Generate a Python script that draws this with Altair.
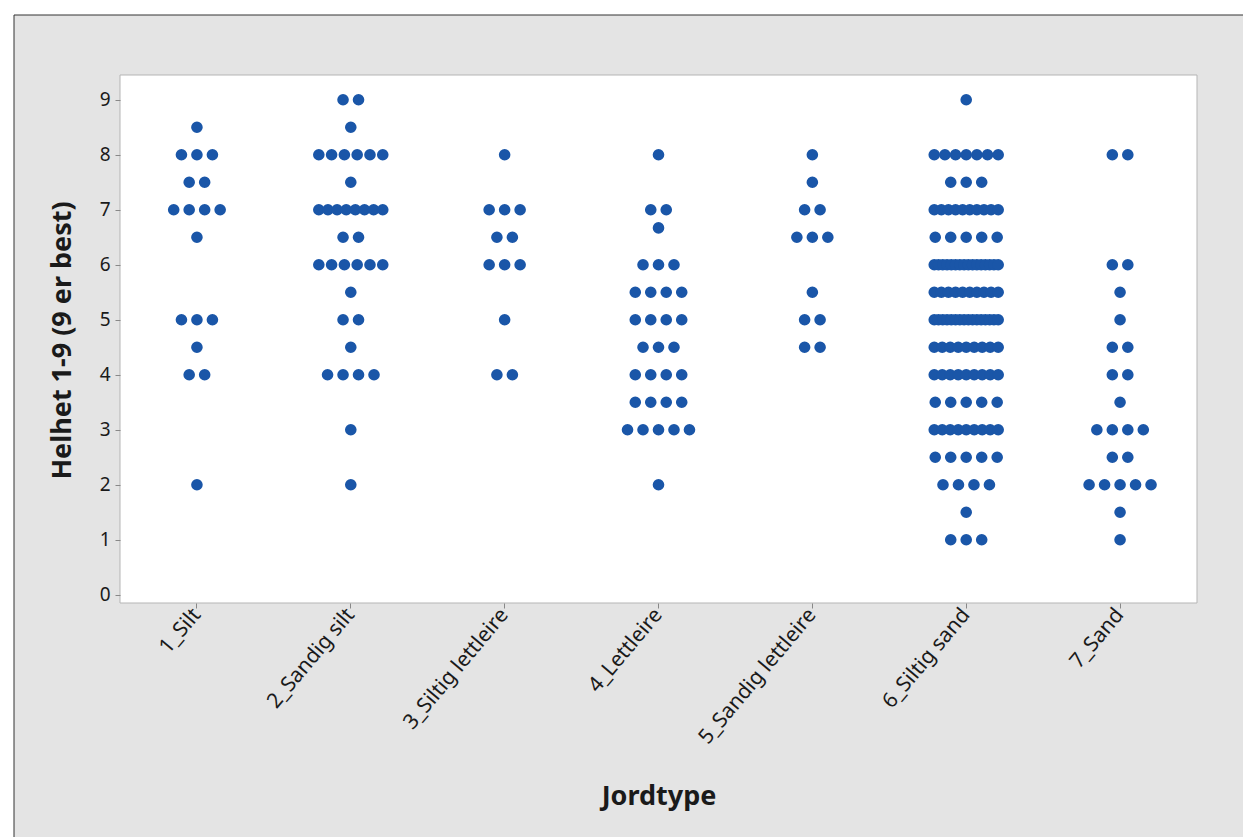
import altair as alt
import pandas as pd

categories = ["1_Silt", "2_Sandig silt", "3_Siltig lettleire", "4_Lettleire",
              "5_Sandig lettleire", "6_Siltig sand", "7_Sand"]

values_by_cat = [
    [8.5, 8, 7.5, 7, 6.5, 5, 4.5, 4, 2],
    [9, 8.5, 8, 7.5, 7, 6.5, 6, 5.5, 5, 4.5, 4, 3, 2],
    [8, 7, 6.5, 6, 5, 4],
    [8, 7, 6.67, 6, 5.5, 5, 4.5, 4, 3.5, 3, 2],
    [8, 7.5, 7, 6.5, 5.5, 5, 4.5],
    [9, 8, 7.5, 7, 6.5, 6, 5.5, 5, 4.5, 4, 3.5, 3, 2.5, 2, 1.5, 1],
    [8, 6, 5.5, 5, 4.5, 4, 3.5, 3, 2.5, 2, 1.5, 1],
]
counts_by_cat = [
    [1, 3, 2, 4, 1, 3, 1, 2, 1],
    [2, 1, 6, 1, 8, 2, 6, 1, 2, 1, 4, 1, 1],
    [1, 3, 2, 3, 1, 2],
    [1, 2, 1, 3, 4, 4, 3, 4, 4, 5, 1],
    [1, 1, 2, 3, 1, 2, 2],
    [1, 7, 3, 10, 5, 16, 10, 16, 9, 9, 5, 9, 5, 4, 1, 3],
    [2, 2, 1, 1, 2, 2, 1, 4, 2, 5, 1, 1],
]

rows = []
for cat, vals, cnts in zip(categories, values_by_cat, counts_by_cat):
    for v, c in zip(vals, cnts):
        for _ in range(c):
            rows.append({"Jordtype": cat, "Helhet": v})
df = pd.DataFrame(rows)

W, H = 1077, 528
PL, PT, PR, PB = 120, 75, 46, 234
FONT = "Noto Sans"
TXT = "#1a1a1a"

frame = alt.Chart(alt.Data(values=[{}])).mark_rect(
    fill="#e4e4e4", stroke="#333333", strokeWidth=1
).encode(
    x=alt.value(-106), x2=alt.value(W + PR + 10),
    y=alt.value(-60), y2=alt.value(H + PB + 10),
)

plotbg = alt.Chart(alt.Data(values=[{}])).mark_rect(
    fill="white", stroke="#b5b5b5", strokeWidth=1
).encode(
    x=alt.value(0), x2=alt.value(W), y=alt.value(0), y2=alt.value(H)
)

points = alt.Chart(df).transform_window(
    rn="row_number()", groupby=["Jordtype", "Helhet"]
).transform_joinaggregate(
    n="count()", groupby=["Jordtype", "Helhet"]
).transform_calculate(
    off="(datum.rn - (datum.n + 1) / 2) * min(15.5, 64 / max(datum.n - 1, 1))"
).mark_circle(size=135, opacity=1, color="#1a56a8").encode(
    x=alt.X("Jordtype:N", sort=categories,
            scale=alt.Scale(paddingInner=0, paddingOuter=0),
            axis=alt.Axis(title="Jordtype", labelAngle=-50, labelFontSize=21,
                          labelColor=TXT, labelFont=FONT, tickColor="#888888",
                          tickSize=5, domain=False, labelPadding=3, zindex=2,
                          titleFont=FONT, titleFontSize=27, titleFontWeight="bold",
                          titleColor=TXT, titleY=193, titleBaseline="middle")),
    xOffset=alt.XOffset("off:Q", scale=alt.Scale(domain=[-77, 77])),
    y=alt.Y("Helhet:Q", scale=alt.Scale(domain=[-0.15, 9.45], nice=False, zero=False),
            axis=alt.Axis(title="Helhet 1-9 (9 er best)", values=list(range(10)),
                          grid=False, domain=False, tickColor="#888888", tickSize=5,
                          labelFontSize=19, labelColor=TXT, labelFont=FONT,
                          labelPadding=5, zindex=2,
                          titleFont=FONT, titleFontSize=27, titleFontWeight="bold",
                          titleColor=TXT, titleX=-58, titleY=265,
                          titleAngle=-90, titleAlign="center",
                          titleBaseline="middle")),
)

chart = alt.layer(frame, plotbg, points).properties(
    width=W, height=H,
    autosize=alt.AutoSizeParams(type="none"),
    padding={"left": PL, "top": PT, "right": PR, "bottom": PB},
    background="white",
).configure_view(stroke=None, fill=None)

chart.save("out.html", embed_options={"renderer": "svg", "actions": False})
